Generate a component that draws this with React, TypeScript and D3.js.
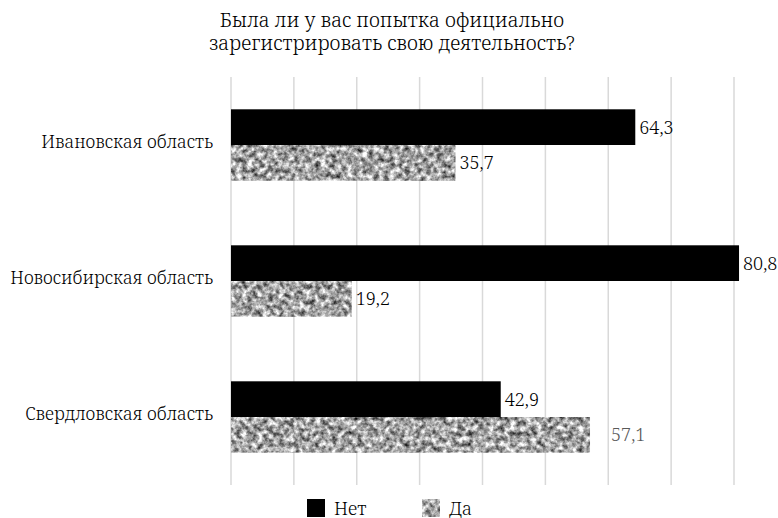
import React from "react";
import * as d3 from "d3";

const WIDTH = 778;
const HEIGHT = 518;
const MARGIN = { top: 77, left: 231, right: 44, bottom: 33 };

const titleLines = ["Была ли у вас попытка официально", "зарегистрировать свою деятельность?"];
const regions = ["Ивановская область", "Новосибирская область", "Свердловская область"];
const seriesNames = ["Нет", "Да"];
const netValues = [64.3, 80.8, 42.9];
const daValues = [35.7, 19.2, 57.1];
const axisMax = 80;

const FONT = "'Noto Serif', 'Liberation Serif', serif";
const txt = { fontFamily: FONT, fontWeight: 300 };

export default function App() {
  const x = d3
    .scaleLinear()
    .domain([0, axisMax])
    .range([MARGIN.left, WIDTH - MARGIN.right]);
  const y = d3
    .scaleBand()
    .domain(regions)
    .range([MARGIN.top, HEIGHT - MARGIN.bottom])
    .paddingInner(0.475)
    .paddingOuter(0.2375);
  const sub = d3.scaleBand().domain(seriesNames).range([0, y.bandwidth()]);

  const rows = regions.map((region, i) => ({
    region,
    values: [
      { name: "Нет", value: netValues[i] },
      { name: "Да", value: daValues[i] }
    ]
  }));

  const fmt = (v) => d3.format(".1f")(v).replace(".", ",");

  return (
    <svg
      width={WIDTH}
      height={HEIGHT}
      style={{ position: "absolute", left: 0, top: 0, background: "#fff" }}
    >
      <defs>
        <filter
          id="granite"
          x="0"
          y="0"
          width="100%"
          height="100%"
          colorInterpolationFilters="sRGB"
        >
          <feTurbulence type="fractalNoise" baseFrequency="0.19" numOctaves="3" seed="7" result="n" />
          <feColorMatrix
            in="n"
            type="matrix"
            values="1.4 0 0 0 -0.06  1.4 0 0 0 -0.06  1.4 0 0 0 -0.06  0 0 0 0 1"
            result="g"
          />
          <feComposite in="g" in2="SourceGraphic" operator="in" />
        </filter>
      </defs>

      {titleLines.map((t, i) => (
        <text key={t} x={392} y={27 + i * 23} textAnchor="middle" fontSize={19.6} fill="#000" style={txt}>
          {t}
        </text>
      ))}

      {x.ticks(axisMax / 10).map((t) => (
        <line
          key={t}
          x1={x(t)}
          x2={x(t)}
          y1={MARGIN.top}
          y2={HEIGHT - MARGIN.bottom}
          stroke="#d9d9d9"
          strokeWidth={1.5}
        />
      ))}

      {rows.map((row, i) => (
        <g key={row.region}>
          <text
            x={213}
            y={y(row.region) + y.bandwidth() / 2 + 2.5}
            textAnchor="end"
            fontSize={17.5}
            fill="#000"
            style={txt}
          >
            {row.region}
          </text>
          {row.values.map((d) => {
            const top = y(row.region) + sub(d.name);
            const odd = d.name === "Да" && i === 2;
            return (
              <g key={d.name}>
                <rect
                  x={x(0)}
                  y={top}
                  width={x(d.value) - x(0)}
                  height={sub.bandwidth()}
                  fill={d.name === "Нет" ? "#000" : "#999"}
                  filter={d.name === "Да" ? "url(#granite)" : undefined}
                />
                <text
                  x={x(d.value) + (odd ? 21 : 4)}
                  y={top + sub.bandwidth() / 2}
                  dy="0.36em"
                  fontSize={18}
                  fill={odd ? "#595959" : "#000"}
                  style={txt}
                >
                  {fmt(d.value)}
                </text>
              </g>
            );
          })}
        </g>
      ))}

      {seriesNames.map((name, i) => (
        <g key={name} transform={`translate(${307 + i * 115},499)`}>
          <rect
            width={18}
            height={18}
            fill={name === "Нет" ? "#000" : "#999"}
            filter={name === "Да" ? "url(#granite)" : undefined}
          />
          <text x={27} y={16} fontSize={18} fill="#000" style={txt}>
            {name}
          </text>
        </g>
      ))}
    </svg>
  );
}
